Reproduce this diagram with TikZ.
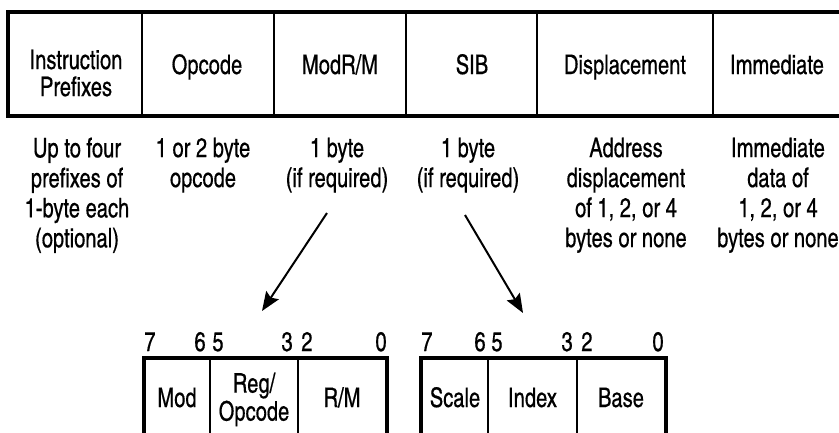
\documentclass[tikz,border=0pt]{standalone}
\usepackage{fontspec}
\setmainfont[FakeStretch=0.91, FakeBold=0.45]{texgyreheroscn-regular.otf}
\usetikzlibrary{arrows.meta}
\begin{document}
\begin{tikzpicture}[x=1pt, y=-1pt,
  cell/.style={draw, line width=1.5pt, inner sep=0pt, minimum height=103pt},
  subcell/.style={draw, line width=1.5pt, inner sep=0pt, minimum height=100pt},
  frame/.style={line width=4pt, line join=miter},
  lbl/.style={font=\fontsize{27}{30}\selectfont, inner sep=0pt},
  desc/.style={lbl, align=center, anchor=north},
  bit/.style={lbl, anchor=base},
  pointer/.style={line width=2pt, -{Stealth[length=19pt, width=15pt, inset=3pt]}}]

\useasboundingbox (0,0) rectangle (839,432);
\fill[white] (0,0) rectangle (839,432);
\clip (0,0) rectangle (839,432);

% ---- instruction format row ----
\node[cell, minimum width=133pt] (cPre) at (75.5,64) {};
\node[cell, minimum width=132pt] (cOpc) at (208,64) {};
\node[cell, minimum width=132pt] (cMod) at (340,64) {};
\node[cell, minimum width=131pt] (cSib) at (471.5,64) {};
\node[cell, minimum width=176pt] (cDsp) at (625,64) {};
\node[cell, minimum width=134pt] (cImm) at (780,64) {};
\draw[frame] (cImm.south east) -- (cPre.south west) -- (cPre.north west) -- (cImm.north east);

\node[lbl, align=center, anchor=north, font=\fontsize{27}{27}\selectfont] (tPre) at (76,49.5) {Instruction\\Prefixes};
\node[lbl, anchor=base] (tOpc) at (207,74) {Opcode};
\node[lbl, anchor=base] (tMod) at (340,74) {ModR/M};
\node[lbl, anchor=base] (tSib) at (472,74) {SIB};
\node[lbl, anchor=base] (tDsp) at (625,74) {Displacement};
\node[lbl, anchor=base] (tImm) at (777,74) {Immediate};

% ---- field descriptions ----
\node[desc] (dPre) at (77,137.5) {Up to four\\prefixes of\\1-byte each\\(optional)};
\node[desc] (dOpc) at (203,137.5) {1 or 2 byte\\opcode};
\node[desc] (dMod) at (337,137.5) {1 byte\\(if required)};
\node[desc] (dSib) at (468,137.5) {1 byte\\(if required)};
\node[desc] (dDsp) at (626,137.5) {Address\\displacement\\of 1, 2, or 4\\bytes or none};
\node[desc] (dImm) at (778,137.5) {Immediate\\data of\\1, 2, or 4\\bytes or none};

% ---- ModR/M byte ----
\node[subcell, minimum width=65.5pt] (mMod) at (177.25,409) {};
\node[subcell, minimum width=88pt]   (mReg) at (254,409) {};
\node[subcell, minimum width=88.5pt] (mRm)  at (342.25,409) {};
\draw[frame] (mMod.south west) -- (mMod.north west) -- (mRm.north east) -- (mRm.south east);

\node[lbl, anchor=base] (lMod) at (177,407) {Mod};
\node[lbl, align=center, anchor=north, font=\fontsize{27}{28}\selectfont] (lReg) at (254,372.5) {Reg/\\Opcode};
\node[lbl, anchor=base] (lRm) at (342,407) {R/M};

\node[bit] (mb7) at (150,351) {7};
\node[bit] (mb6) at (200,351) {6};
\node[bit] (mb5) at (218,351) {5};
\node[bit] (mb3) at (287,351) {3};
\node[bit] (mb2) at (307,351) {2};
\node[bit] (mb0) at (381,351) {0};

% ---- SIB byte ----
\node[subcell, minimum width=66pt] (sSc) at (455,409) {};
\node[subcell, minimum width=89pt] (sIx) at (532.5,409) {};
\node[subcell, minimum width=88pt] (sBs) at (621,409) {};
\draw[frame] (sSc.south west) -- (sSc.north west) -- (sBs.north east) -- (sBs.south east);

\node[lbl, anchor=base] (lSc) at (455,407) {Scale};
\node[lbl, anchor=base] (lIx) at (532.5,407) {Index};
\node[lbl, anchor=base] (lBs) at (621,407) {Base};

\node[bit] (sb7) at (427,351) {7};
\node[bit] (sb6) at (480,351) {6};
\node[bit] (sb5) at (497,351) {5};
\node[bit] (sb3) at (567,351) {3};
\node[bit] (sb2) at (587,351) {2};
\node[bit] (sb0) at (658,351) {0};

% ---- pointers to the byte layouts ----
\coordinate (mTail) at (327,213);
\coordinate (mTip)  at (262,311);
\coordinate (sTail) at (465,215);
\coordinate (sTip)  at (523,313);
\draw[pointer] (mTail) -- (mTip);
\draw[pointer] (sTail) -- (sTip);
\end{tikzpicture}
\end{document}
